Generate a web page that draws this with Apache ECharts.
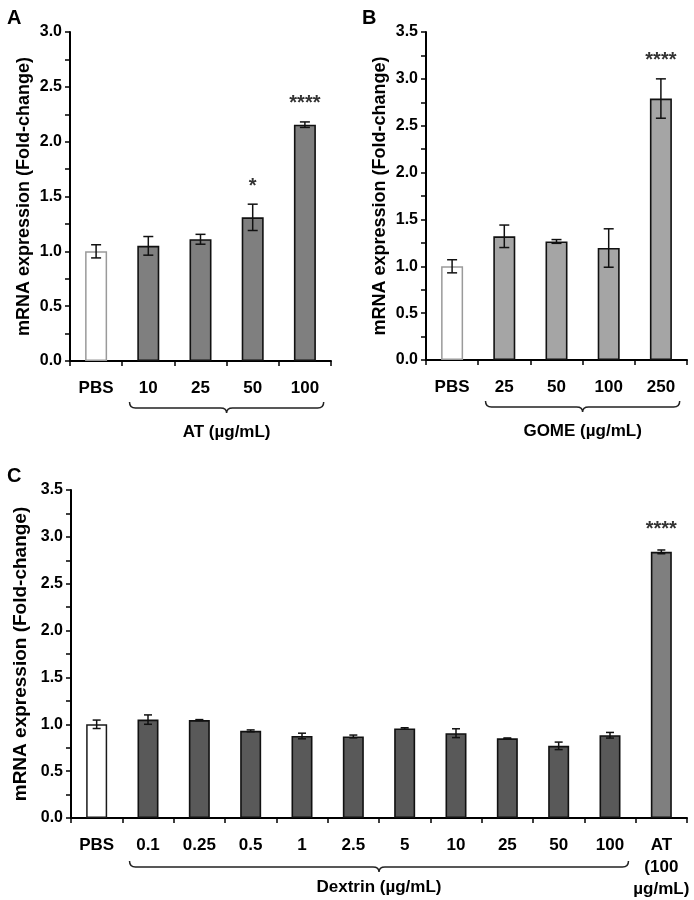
<!DOCTYPE html>
<html>
<head>
<meta charset="utf-8">
<script src="https://cdn.jsdelivr.net/npm/echarts@6/dist/echarts.min.js"></script>
<style>
html,body{margin:0;padding:0;background:#fff;}
#chart{width:694px;height:900px;}
</style>
</head>
<body>
<div id="chart"></div>
<script>
// ---- Data ----
const catsA = ['PBS', '10', '25', '50', '100'];
const meanA = [1.00, 1.05, 1.11, 1.31, 2.155];
const errA  = [0.06, 0.085, 0.045, 0.12, 0.025];
const sigA  = ['', '', '', '*', '****'];
const groupA = 'AT (µg/mL)';
const groupRangeA = [1, 4];

const catsB = ['PBS', '25', '50', '100', '250'];
const meanB = [1.00, 1.32, 1.265, 1.195, 2.79];
const errB  = [0.07, 0.12, 0.02, 0.205, 0.21];
const sigB  = ['', '', '', '', '****'];
const groupB = 'GOME (µg/mL)';
const groupRangeB = [1, 4];

const catsC = ['PBS', '0.1', '0.25', '0.5', '1', '2.5', '5', '10', '25', '50', '100', 'AT\n(100\nµg/mL)'];
const meanC = [1.00, 1.05, 1.045, 0.93, 0.875, 0.87, 0.955, 0.905, 0.85, 0.77, 0.883, 2.84];
const errC  = [0.045, 0.05, 0.005, 0.01, 0.03, 0.015, 0.008, 0.047, 0.004, 0.04, 0.03, 0.02];
const sigC  = ['', '', '', '', '', '', '', '', '', '', '', '****'];
const groupC = 'Dextrin (µg/mL)';
const groupRangeC = [1, 10];

const yMaxA = 3.0, yMaxB = 3.5, yMaxC = 3.5;
const yTitle = 'mRNA expression (Fold-change)';

// ---- Styles ----
const FONT = 'Liberation Sans, Arial, sans-serif';
const pbsStyleAB = {color: '#ffffff', borderColor: '#9a9a9a', borderWidth: 1.5};
const pbsStyleC = {color: '#ffffff', borderColor: '#1a1a1a', borderWidth: 1.5};
const styleA = {color: '#7f7f7f', borderColor: '#111', borderWidth: 1.6};
const styleB = {color: '#a5a5a5', borderColor: '#111', borderWidth: 1.6};
const styleC = {color: '#595959', borderColor: '#111', borderWidth: 1.6};
const styleCat = {color: '#7f7f7f', borderColor: '#111', borderWidth: 1.6};

function yAxisCfg(gi, max, labelSize, nameSize, nameGap) {
  return {
    type: 'value', gridIndex: gi, min: 0, max: max, interval: 0.5,
    name: yTitle, nameLocation: 'middle', nameGap: nameGap, nameRotate: 90,
    nameTextStyle: {fontFamily: FONT, fontWeight: 'bold', fontSize: nameSize, color: '#000'},
    axisLine: {show: true, lineStyle: {color: '#000', width: 2}},
    axisTick: {show: true, length: 5, inside: false, lineStyle: {color: '#000', width: 1.5}},
    minorTick: {show: true, splitNumber: 2, length: 5, lineStyle: {color: '#000', width: 1.5}},
    splitLine: {show: false},
    axisLabel: {fontFamily: FONT, fontWeight: 'bold', fontSize: labelSize, color: '#000', margin: 8,
      formatter: v => v.toFixed(1)}
  };
}
function xAxisCfg(gi, cats, labelSize) {
  return {
    type: 'category', gridIndex: gi, data: cats,
    axisLine: {show: true, lineStyle: {color: '#000', width: 2}},
    axisTick: {show: true, length: 5, alignWithLabel: false, lineStyle: {color: '#000', width: 1.5}},
    axisLabel: {fontFamily: FONT, fontWeight: 'bold', fontSize: labelSize, color: '#000', margin: 16,
      lineHeight: 22, interval: 0}
  };
}
function barSeries(gi, means, first, rest, width, lastStyle) {
  return {
    type: 'bar', xAxisIndex: gi, yAxisIndex: gi, barWidth: width,
    data: means.map((v, i) => ({value: v,
      itemStyle: i === 0 ? first : (lastStyle && i === means.length - 1 ? lastStyle : rest)})),
    silent: true, z: 2
  };
}
function errSeries(gi, means, errs, sigs, capHalf, starGap) {
  return {
    type: 'custom', xAxisIndex: gi, yAxisIndex: gi, z: 5, silent: true,
    data: means.map((m, i) => [i, m, errs[i]]),
    renderItem: function (params, api) {
      const x = api.value(0), m = api.value(1), e = api.value(2);
      const hi = api.coord([x, m + e]);
      const lo = api.coord([x, m - e]);
      const st = {stroke: '#111', lineWidth: 1.5};
      const children = [
        {type: 'line', shape: {x1: hi[0], y1: hi[1], x2: lo[0], y2: lo[1]}, style: st},
        {type: 'line', shape: {x1: hi[0] - capHalf, y1: hi[1], x2: hi[0] + capHalf, y2: hi[1]}, style: st},
        {type: 'line', shape: {x1: lo[0] - capHalf, y1: lo[1], x2: lo[0] + capHalf, y2: lo[1]}, style: st}
      ];
      const s = sigs[params.dataIndex];
      if (s) {
        children.push({type: 'text', x: hi[0], y: hi[1] - starGap,
          style: {text: s, align: 'center', verticalAlign: 'middle', fontFamily: FONT,
            fontSize: 20, fontWeight: 'bold', fill: '#333'}});
      }
      return {type: 'group', children: children};
    }
  };
}
function braceSeries(gi, range, label, offTop, offMid, offTip, offLabel) {
  return {
    type: 'custom', xAxisIndex: gi, yAxisIndex: gi, z: 5, silent: true,
    data: [[range[0], range[1]]],
    renderItem: function (params, api) {
      const a = api.coord([api.value(0), 0]);
      const b = api.coord([api.value(1), 0]);
      const band = api.size([1, 0])[0];
      const x1 = a[0] - 0.36 * band, x2 = b[0] + 0.36 * band;
      const xc = (x1 + x2) / 2;
      const y0 = a[1];
      const yt = y0 + offTop, ym = y0 + offMid, yp = y0 + offTip;
      const r = 6;
      const d = `M ${x1} ${yt} Q ${x1} ${ym} ${x1 + r} ${ym} L ${xc - r} ${ym} Q ${xc} ${ym} ${xc} ${yp} ` +
                `Q ${xc} ${ym} ${xc + r} ${ym} L ${x2 - r} ${ym} Q ${x2} ${ym} ${x2} ${yt}`;
      return {type: 'group', children: [
        {type: 'path', shape: {pathData: d}, style: {stroke: '#222', lineWidth: 1.5, fill: null}},
        {type: 'text', x: xc, y: y0 + offLabel,
          style: {text: label, align: 'center', verticalAlign: 'middle', fontFamily: FONT,
            fontSize: 17, fontWeight: 'bold', fill: '#000'}}
      ]};
    }
  };
}

const chart = echarts.init(document.getElementById('chart'), null, {renderer: 'canvas'});
chart.setOption({
  backgroundColor: '#fff',
  animation: false,
  title: [
    {text: 'A', left: 2, top: 3, textStyle: {fontFamily: FONT, fontWeight: 'bold', fontSize: 20, color: '#000'}},
    {text: 'B', left: 357, top: 3, textStyle: {fontFamily: FONT, fontWeight: 'bold', fontSize: 20, color: '#000'}},
    {text: 'C', left: 2, top: 461, textStyle: {fontFamily: FONT, fontWeight: 'bold', fontSize: 20, color: '#000'}}
  ],
  grid: [
    {left: 70, top: 32, width: 261, height: 329},
    {left: 426, top: 32, width: 261, height: 328},
    {left: 71, top: 490, width: 616, height: 329}
  ],
  xAxis: [xAxisCfg(0, catsA, 17), xAxisCfg(1, catsB, 17), xAxisCfg(2, catsC, 17)],
  yAxis: [yAxisCfg(0, yMaxA, 16, 18, 37), yAxisCfg(1, yMaxB, 16, 18, 37), yAxisCfg(2, yMaxC, 16, 19, 38)],
  series: [
    barSeries(0, meanA, pbsStyleAB, styleA, 22),
    errSeries(0, meanA, errA, sigA, 5, 18),
    braceSeries(0, groupRangeA, groupA, 41, 47, 52, 71),
    barSeries(1, meanB, pbsStyleAB, styleB, 22),
    errSeries(1, meanB, errB, sigB, 5, 18),
    braceSeries(1, groupRangeB, groupB, 41, 47, 52, 71),
    barSeries(2, meanC, pbsStyleC, styleC, 21, styleCat),
    errSeries(2, meanC, errC, sigC, 4, 20),
    braceSeries(2, groupRangeC, groupC, 43, 49, 54, 69)
  ]
});
</script>
</body>
</html>
